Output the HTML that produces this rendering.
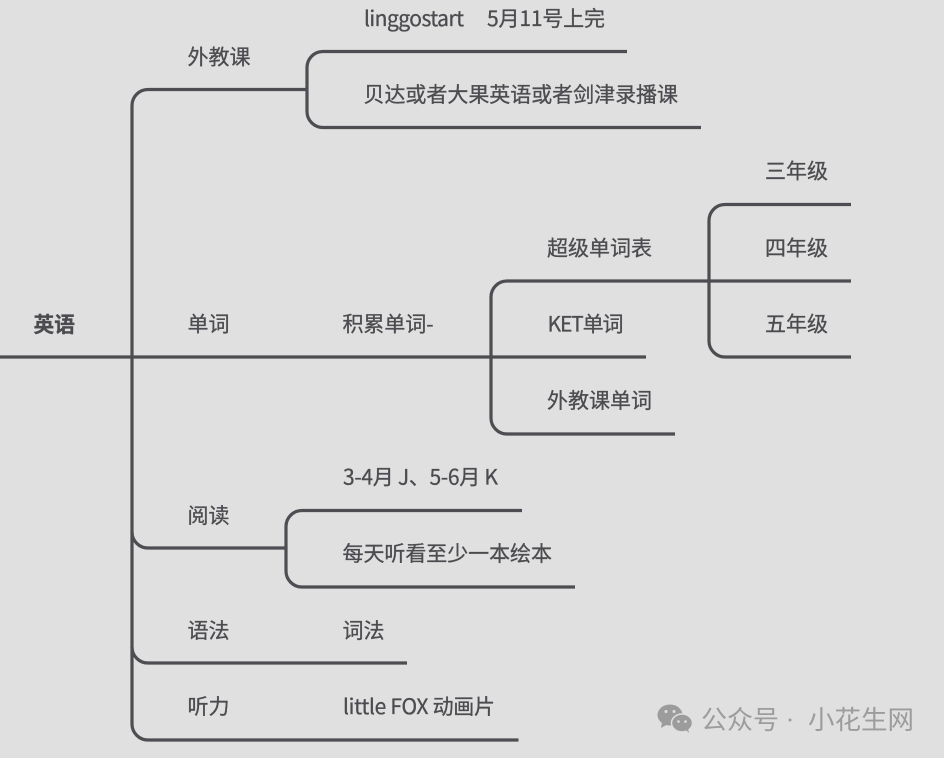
<!DOCTYPE html>
<html lang="zh">
<head>
<meta charset="utf-8">
<title>英语</title>
<style>
html,body{margin:0;padding:0;width:944px;height:758px;overflow:hidden;background:#e0e0e0}
svg{display:block}
text{font-family:"Noto Sans CJK SC","Liberation Sans",sans-serif;font-size:21px;fill:#4c4c50;stroke:#4c4c50;stroke-width:.3px}
</style>
</head>
<body>
<svg width="944" height="758" viewBox="0 0 944 758" xmlns="http://www.w3.org/2000/svg">
<rect width="944" height="758" fill="#e0e0e0"/>
<g fill="none" stroke="#4d4d52" stroke-width="3.200">
<path d="M0 357H646"/>
<path d="M307 89.500H148A16 16 0 0 0 132 105.500V724A16 16 0 0 0 148 740H518.500"/>
<path d="M132 532A16 16 0 0 0 148 548H286"/>
<path d="M132 647A16 16 0 0 0 148 663H407"/>
<path d="M627 51.500H323A16 16 0 0 0 307 67.500V111.500A16 16 0 0 0 323 127.500H701"/>
<path d="M851 281H507A16 16 0 0 0 491 297V418A16 16 0 0 0 507 434H675"/>
<path d="M851 204.500H725A16 16 0 0 0 709 220.500V341A16 16 0 0 0 725 357H851"/>
<path d="M522 510.500H302A16 16 0 0 0 286 526.500V571A16 16 0 0 0 302 587H575"/>
</g>
<text x="33.500" y="332" font-weight="700" textLength="41.500" lengthAdjust="spacingAndGlyphs">英语</text>
<text x="187.500" y="64.500" textLength="63">外教课</text>
<text x="187.500" y="331.500" textLength="42">单词</text>
<text x="187.500" y="523" textLength="42">阅读</text>
<text x="187.500" y="638" textLength="42">语法</text>
<text x="187.500" y="714" textLength="42">听力</text>
<text x="342.500" y="331.500" textLength="91">积累单词-</text>
<text x="364" y="26" textLength="100">linggostart</text>
<text x="487" y="26" textLength="118">5月11号上完</text>
<text x="363.500" y="102" textLength="314.500">贝达或者大果英语或者剑津录播课</text>
<text x="547" y="255.500" textLength="105">超级单词表</text>
<text x="547.500" y="331.500" textLength="76">KET单词</text>
<text x="547" y="408" textLength="105">外教课单词</text>
<text x="765" y="178.500" textLength="63">三年级</text>
<text x="765" y="255.500" textLength="63">四年级</text>
<text x="765" y="331.500" textLength="63">五年级</text>
<text x="343" y="484.500" textLength="155">3-4月 J、5-6月 K</text>
<text x="342.500" y="561" textLength="209.500">每天听看至少一本绘本</text>
<text x="342.500" y="638" textLength="42">词法</text>
<text x="343" y="714" textLength="152">little FOX 动画片</text>
<g fill="#9c9c9c">
<ellipse cx="670" cy="715" rx="12.500" ry="10.500"/>
<path d="M662 722L661 728L668 724Z"/>
<ellipse cx="682" cy="723" rx="10.500" ry="9" stroke="#e0e0e0" stroke-width="1.500"/>
<path d="M686 730L689 733L688 728Z"/>
<circle cx="666" cy="711.500" r="1.500" fill="#e0e0e0"/>
<circle cx="674" cy="711.500" r="1.500" fill="#e0e0e0"/>
<circle cx="678.500" cy="721.500" r="1.300" fill="#e0e0e0"/>
<circle cx="685.500" cy="721.500" r="1.300" fill="#e0e0e0"/>
</g>
<text x="701" y="729" style="font-size:26px;fill:#9c9c9c;stroke:none" textLength="78" lengthAdjust="spacingAndGlyphs">公众号</text>
<circle cx="790" cy="720" r="1.500" fill="#9c9c9c"/>
<text x="808" y="729" style="font-size:26px;fill:#9c9c9c;stroke:none" textLength="106" lengthAdjust="spacingAndGlyphs">小花生网</text>
</svg>
</body>
</html>
